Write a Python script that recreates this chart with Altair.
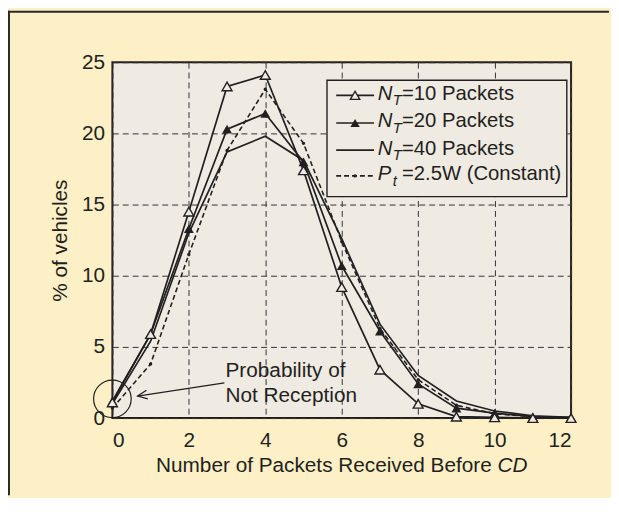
import altair as alt
import pandas as pd

# ---------------- data ----------------
packets = list(range(13))
nt10 = [1.1, 5.9, 14.5, 23.3, 24.1, 17.4, 9.2, 3.4, 1.0, 0.1, 0.05, 0.0, 0.0]
nt20 = [1.2, 5.9, 13.3, 20.3, 21.4, 18.0, 10.7, 6.1, 2.4, 0.7, 0.35, 0.1, 0.05]
nt40 = [1.0, 5.4, 13.0, 18.7, 19.8, 18.1, 12.6, 6.6, 3.0, 1.2, 0.5, 0.15, 0.05]
pt25 = [0.7, 3.8, 11.5, 18.8, 23.1, 19.3, 12.4, 6.3, 2.7, 0.9, 0.3, 0.1, 0.0]

x_ticks = [0, 2, 4, 6, 8, 10, 12]
y_ticks = [0, 5, 10, 15, 20, 25]

legend_keys = ["N10", "N20", "N40", "P25"]
legend_sym = ["N", "N", "N", "P"]
legend_sub = ["T", "T", "T", "t"]
legend_rest = ["=10 Packets", "=20 Packets", "=40 Packets", "=2.5W (Constant)"]

annot_lines = ["Probability of", "Not Reception"]
x_title = "Number of Packets Received Before"
x_title_italic = "CD"
y_title = "% of vehicles"

# ---------------- style ----------------
W, H = 464, 360
PAD_L, PAD_T = 105.6, 52
TOTAL_W, TOTAL_H = 610, 490
INK = "#231f20"
BG = "#fdf0c6"
PLOT_BG = "#efeae2"
FONT = "Liberation Sans"
FS = 21

series = {"N10": nt10, "N20": nt20, "N40": nt40, "P25": pt25}
rows = []
for k, vals in series.items():
    for x, v in zip(packets, vals):
        rows.append({"series": k, "x": x, "y": v})
df = pd.DataFrame(rows)

xscale = alt.Scale(domain=[0, 12], nice=False)
yscale = alt.Scale(domain=[0, 25], nice=False)

X = alt.X("x:Q", scale=xscale,
          axis=alt.Axis(values=x_ticks, title=None, ticks=False, domain=False,
                        labelPadding=12, grid=True))
Y = alt.Y("y:Q", scale=yscale,
          axis=alt.Axis(values=y_ticks, title=y_title, ticks=False, domain=False,
                        labelPadding=8, grid=True, titleX=-46, titleY=H / 2,
                        titleAngle=-90, titleAlign="center",
                        titleBaseline="alphabetic"))
Xn = alt.X("x:Q", scale=xscale)
Yn = alt.Y("y:Q", scale=yscale)

base = alt.Chart(df)


def sel(k):
    return base.transform_filter(alt.datum.series == k)


layers = []
# axes/grid carrier
layers.append(base.mark_point(opacity=0).encode(x=X, y=Y))

# NT=40 line
layers.append(sel("N40").mark_line(color=INK, strokeWidth=1.7).encode(x=Xn, y=Yn))
# Pt dashed line with dots
layers.append(sel("P25").mark_line(color=INK, strokeWidth=1.6, strokeDash=[5, 3]).encode(x=Xn, y=Yn))
layers.append(sel("P25").mark_point(shape="circle", filled=True, color=INK, size=12, opacity=1).encode(x=Xn, y=Yn))
# NT=20 line with filled triangles
layers.append(sel("N20").mark_line(color=INK, strokeWidth=1.7).encode(x=Xn, y=Yn))
layers.append(sel("N20").mark_point(shape="triangle-up", filled=True, color=INK, size=100, opacity=1).encode(x=Xn, y=Yn))
# NT=10 line with open triangles
layers.append(sel("N10").mark_line(color=INK, strokeWidth=1.7).encode(x=Xn, y=Yn))
layers.append(sel("N10").mark_point(shape="triangle-up", filled=False, fill=PLOT_BG, fillOpacity=1,
                                    stroke=INK, strokeWidth=1.4, size=100, opacity=1).encode(x=Xn, y=Yn))

# annotation: circle, arrow, text
circ = pd.DataFrame({"x": [0.0], "y": [1.35]})
layers.append(alt.Chart(circ).mark_point(shape="circle", filled=False, stroke=INK, strokeWidth=1.2,
                                         size=1450, opacity=1).encode(x=Xn, y=Yn))
arrow = pd.DataFrame({"x": [2.93], "y": [2.48], "x2": [0.66], "y2": [1.55]})
layers.append(alt.Chart(arrow).mark_rule(color=INK, strokeWidth=1.3).encode(
    x=Xn, y=Yn, x2="x2:Q", y2="y2:Q"))
layers.append(alt.Chart(arrow).mark_point(shape="M -1 -0.45 L 0 0 L -1 0.45", filled=False, stroke=INK,
                                          strokeWidth=1.3, size=380, angle=171, opacity=1).encode(
    x=alt.X("x2:Q", scale=xscale), y=alt.Y("y2:Q", scale=yscale)))
annot = pd.DataFrame({"x": [2.96, 2.96], "y": [2.9, 1.12], "t": annot_lines})
layers.append(alt.Chart(annot).mark_text(align="left", baseline="alphabetic", font=FONT, fontSize=FS,
                                         color=INK).encode(x=Xn, y=Yn, text="t:N"))

# x-axis title (with italic part)
xt = pd.DataFrame({"a": [0]})
layers.append(alt.Chart(xt).mark_text(align="right", baseline="alphabetic", font=FONT, fontSize=FS,
                                      color=INK, text=x_title).encode(x=alt.value(383.7), y=alt.value(415)))
layers.append(alt.Chart(xt).mark_text(align="left", baseline="alphabetic", font=FONT, fontSize=FS,
                                      fontStyle="italic", color=INK, text=x_title_italic).encode(
    x=alt.value(389.5), y=alt.value(415)))

# legend
leg_y = [33.5, 61.5, 89, 115]
leg = pd.DataFrame({"key": legend_keys, "ly": leg_y, "sym": legend_sym, "sub": legend_sub,
                    "rest": legend_rest,
                    "ty": [v + 4.5 for v in leg_y], "sy": [v + 10 for v in leg_y]})
layers.append(alt.Chart(xt).mark_rect(fill=PLOT_BG, stroke=INK, strokeWidth=1.4).encode(
    x=alt.value(217.1), x2=alt.value(459.7), y=alt.value(18.3), y2=alt.value(136)))
lg = alt.Chart(leg)
Ly = alt.Y("ly:Q", scale=None)
for k in legend_keys:
    part = lg.transform_filter(alt.datum.key == k)
    dash = [5, 3] if k == "P25" else [1, 0]
    layers.append(part.mark_rule(color=INK, strokeWidth=1.7, strokeDash=dash).encode(
        x=alt.value(226.4), x2=alt.value(264.7), y=Ly))
layers.append(lg.transform_filter(alt.datum.key == "N10").mark_point(
    shape="triangle-up", filled=False, fill=PLOT_BG, fillOpacity=1, stroke=INK, strokeWidth=1.4,
    size=90, opacity=1).encode(x=alt.value(245.5), y=Ly))
layers.append(lg.transform_filter(alt.datum.key == "N20").mark_point(
    shape="triangle-up", filled=True, color=INK, size=90, opacity=1).encode(x=alt.value(245.5), y=Ly))
layers.append(lg.transform_filter(alt.datum.key == "P25").mark_point(
    shape="circle", filled=True, color=INK, size=12, opacity=1).encode(x=alt.value(245.5), y=Ly))
layers.append(lg.mark_text(align="left", baseline="alphabetic", font=FONT, fontSize=20.5, fontStyle="italic",
                           color=INK).encode(x=alt.value(268.5), y=alt.Y("ty:Q", scale=None), text="sym:N"))
layers.append(lg.mark_text(align="left", baseline="alphabetic", font=FONT, fontSize=15, fontStyle="italic",
                           color=INK).encode(x=alt.value(283.5), y=alt.Y("sy:Q", scale=None), text="sub:N"))
layers.append(lg.mark_text(align="left", baseline="alphabetic", font=FONT, fontSize=20.5,
                           color=INK).encode(x=alt.value(293), y=alt.Y("ty:Q", scale=None), text="rest:N"))

# figure frame lines (top and left)
layers.append(alt.Chart(xt).mark_rule(color="#2a2a2a", strokeWidth=2).encode(
    x=alt.value(-PAD_L + 1), y=alt.value(-PAD_T), y2=alt.value(TOTAL_H - PAD_T)))
layers.append(alt.Chart(xt).mark_rule(color="#2a2a2a", strokeWidth=2).encode(
    x=alt.value(-PAD_L), x2=alt.value(TOTAL_W - PAD_L - 2), y=alt.value(-PAD_T + 1)))

chart = alt.layer(*layers).properties(
    width=W, height=H,
    autosize=alt.AutoSizeParams(type="none"),
    padding={"left": PAD_L, "top": PAD_T, "right": TOTAL_W - PAD_L - W, "bottom": TOTAL_H - PAD_T - H},
    background=BG,
).configure_view(
    fill=PLOT_BG, stroke=INK, strokeWidth=2
).configure_axis(
    labelFont=FONT, labelFontSize=FS, labelColor=INK,
    titleFont=FONT, titleFontSize=FS, titleColor=INK, titleFontWeight="normal",
    gridColor="#333333", gridDash=[6, 4], gridWidth=1, gridOpacity=1,
)

chart.save("out.html", embed_options={"renderer": "svg", "actions": False})
